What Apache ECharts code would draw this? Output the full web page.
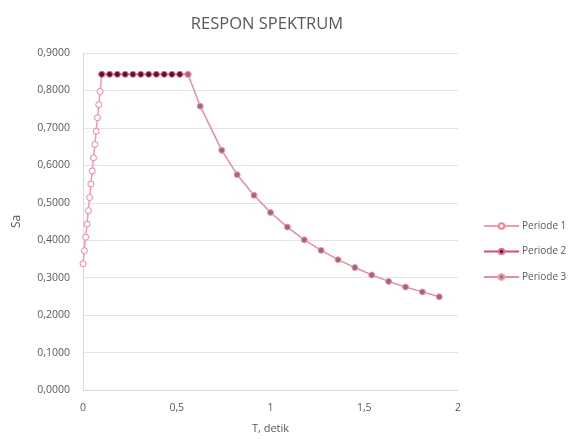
<!DOCTYPE html>
<html>
<head>
<meta charset="utf-8">
<script src="https://cdn.jsdelivr.net/npm/echarts@6/dist/echarts.min.js"></script>
<style>html,body{margin:0;padding:0;background:#fff}#c{width:577px;height:439px}</style>
</head>
<body>
<div id="c"></div>
<script>
var titleText = 'RESPON SPEKTRUM';
var xName = 'T, detik';
var yName = 'Sa';
var seriesNames = ['Periode 1', 'Periode 2', 'Periode 3'];

var p1T  = [0, 0.007, 0.014, 0.021, 0.028, 0.035, 0.042, 0.049, 0.056, 0.063, 0.070, 0.077, 0.084, 0.091, 0.100];
var p1Sa = [0.337, 0.372, 0.408, 0.443, 0.479, 0.514, 0.550, 0.585, 0.620, 0.656, 0.691, 0.727, 0.762, 0.797, 0.843];

var p2T  = [0.100, 0.142, 0.183, 0.225, 0.266, 0.308, 0.350, 0.391, 0.433, 0.474, 0.516, 0.560];
var p2Sa = [0.843, 0.843, 0.843, 0.843, 0.843, 0.843, 0.843, 0.843, 0.843, 0.843, 0.843, 0.843];

var p3T  = [0.560, 0.625, 0.740, 0.822, 0.912, 1.000, 1.090, 1.180, 1.270, 1.360, 1.450, 1.540, 1.630, 1.720, 1.810, 1.900];
var p3Sa = [0.843, 0.758, 0.640, 0.575, 0.520, 0.474, 0.435, 0.401, 0.373, 0.348, 0.327, 0.307, 0.290, 0.275, 0.262, 0.249];

function pairs(xs, ys){ return xs.map(function(x,i){ return [x, ys[i]]; }); }

var FONT = '"Open Sans", "Liberation Sans", sans-serif';
var chart = echarts.init(document.getElementById('c'), null, {renderer:'canvas'});
chart.setOption({
  animation: false,
  backgroundColor: '#ffffff',
  textStyle: {fontFamily: FONT},
  title: {
    text: titleText, left: 262, top: 11, textAlign: 'center',
    textStyle: {fontSize: 16.5, fontWeight: 'normal', color: '#595959', fontFamily: FONT}
  },
  legend: {
    orient: 'vertical', left: 478, top: 216, itemWidth: 35, itemHeight: 7, itemGap: 15.5,
    textStyle: {fontSize: 10, color: '#595959', fontFamily: FONT, padding: [0,0,0,-2]},
    data: seriesNames
  },
  grid: {left: 83, right: 119, top: 53, bottom: 46},
  xAxis: {
    type: 'value', min: 0, max: 2, interval: 0.5,
    name: xName, nameLocation: 'middle', nameGap: 33,
    nameTextStyle: {fontSize: 11, color: '#595959'},
    axisLine: {show: true, lineStyle: {color: '#D9D9D9'}},
    axisTick: {show: false},
    splitLine: {show: false},
    axisLabel: {fontSize: 10.5, color: '#595959', margin: 13,
      formatter: function(v){ return String(v).replace('.', ','); }}
  },
  yAxis: {
    type: 'value', min: 0, max: 0.9, interval: 0.1,
    name: yName, nameLocation: 'middle', nameGap: 60, nameRotate: 90,
    nameTextStyle: {fontSize: 12, color: '#595959'},
    axisLine: {show: true, lineStyle: {color: '#D9D9D9'}},
    axisTick: {show: false},
    splitLine: {show: true, lineStyle: {color: '#E4E4E4'}},
    axisLabel: {fontSize: 10.5, color: '#595959', margin: 13,
      formatter: function(v){ return v.toFixed(4).replace('.', ','); }}
  },
  series: [
    {
      name: seriesNames[0], type: 'line', data: pairs(p1T, p1Sa),
      symbol: 'circle', symbolSize: 6, z: 2,
      lineStyle: {color: '#F29AAA', width: 1.5},
      itemStyle: {color: '#ffffff', borderColor: '#F08498', borderWidth: 1}
    },
    {
      name: seriesNames[1], type: 'line', data: pairs(p2T, p2Sa),
      symbol: 'circle', symbolSize: 6, z: 3,
      lineStyle: {color: '#D0506E', width: 1.5},
      itemStyle: {color: '#5E0F2A', borderColor: '#E07A92', borderWidth: 1}
    },
    {
      name: seriesNames[2], type: 'line', data: pairs(p3T, p3Sa),
      symbol: 'circle', symbolSize: 6, z: 4,
      lineStyle: {color: '#E4909C', width: 1.5},
      itemStyle: {color: '#A86474', borderColor: '#E4A0AC', borderWidth: 1}
    }
  ]
});
</script>
</body>
</html>
